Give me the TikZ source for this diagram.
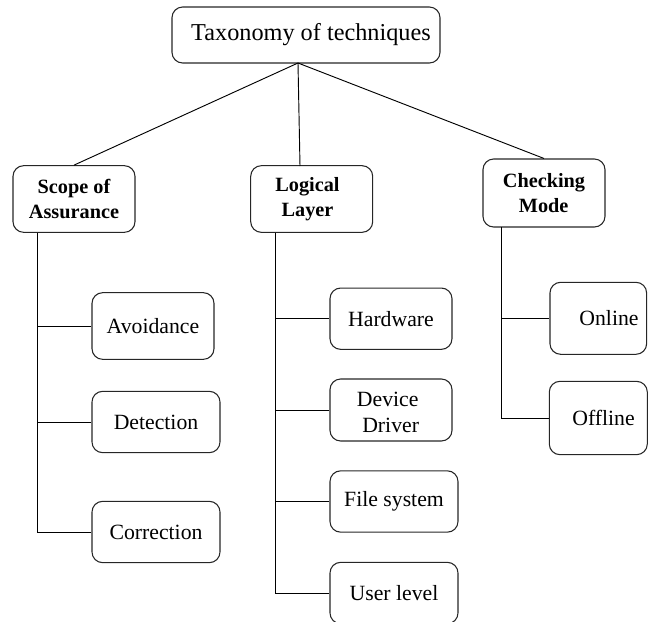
\documentclass[tikz,border=0pt]{standalone}
\usepackage{fontspec}
\setmainfont{Liberation Serif}
\newfontfamily\tnr{Liberation Serif}
\begin{document}
\begin{tikzpicture}[x=0.75pt,y=-0.75pt,
  box/.style={draw=black!85, line width=0.8pt, rounded corners=8pt, inner sep=0pt, align=center},
  topfont/.style={font=\tnr\fontsize{18.2}{21}\selectfont},
  leaffont/.style={font=\tnr\fontsize{16.3}{19.5}\selectfont},
  catfont/.style={font=\tnr\fontsize{15.2}{18.5}\selectfont\bfseries},
  conn/.style={draw=black, line width=0.7pt}]
\useasboundingbox (0,0) rectangle (651,622);
\clip (0,0) rectangle (651,622);
% top
\node[box, minimum width=201pt, minimum height=42pt] (top) at (306,35) {};
\node[topfont, inner sep=0pt] (toptext) at (311,35) {Taxonomy of techniques};
% categories
\node[box, catfont, minimum width=91.5pt, minimum height=50pt] (scope) at (74,199) {Scope of\\Assurance};
\node[box, catfont, minimum width=91.5pt, minimum height=50pt] (logical) at (311.7,199) {};
\node[catfont, align=center, inner sep=0pt] (logicaltext) at (307.5,199) {Logical\\Layer};
\node[box, catfont, minimum width=91.5pt, minimum height=51pt] (checking) at (544,193) {};
\node[catfont, align=left, inner sep=0pt] (checkingtext) at (544,193) {Checking\\\hspace*{12pt}Mode};
% scope leaves
\node[box, leaffont, minimum width=91.5pt, minimum height=50pt] (avoid) at (153,326) {Avoidance};
\node[box, leaffont, minimum width=96pt, minimum height=46pt] (detect) at (156,422) {Detection};
\node[box, leaffont, minimum width=96pt, minimum height=46pt] (correct) at (156,532) {Correction};
% logical leaves
\node[box, leaffont, minimum width=91.5pt, minimum height=46pt] (hard) at (391,318.7) {Hardware};
\node[box, minimum width=91.5pt, minimum height=46.5pt] (device) at (391,410) {};
\node[leaffont, align=left, inner sep=0pt] (devicetext) at (388,412) {Device\\\hspace*{4pt}Driver};
\node[box, leaffont, minimum width=96pt, minimum height=46pt] (file) at (394,501.5) {File system};
\node[box, leaffont, minimum width=96pt, minimum height=46pt] (user) at (394,593) {User level};
% checking leaves
\node[box, minimum width=72.5pt, minimum height=54pt] (online) at (598.3,318.3) {};
\node[leaffont, inner sep=0pt] (onlinetext) at (609,318.3) {Online};
\node[box, minimum width=73.5pt, minimum height=55pt] (offline) at (598.3,418) {};
\node[leaffont, inner sep=0pt] (offlinetext) at (603.5,418) {Offline};
% connectors from top
\coordinate (apex) at (298,63);
\coordinate (lt) at (300,166);
\draw[conn] (apex) -- (scope.north);
\draw[conn] (apex) -- (lt);
\draw[conn] (apex) -- (checking.north);
% scope trunk
\coordinate (s0) at (37,232.7);
\draw[conn] (s0) |- (correct.west);
\draw[conn] (s0 |- avoid.west) -- (avoid.west);
\draw[conn] (s0 |- detect.west) -- (detect.west);
% logical trunk
\coordinate (l0) at (275,232.7);
\draw[conn] (l0) |- (user.west);
\draw[conn] (l0 |- hard.west) -- (hard.west);
\draw[conn] (l0 |- device.west) -- (device.west);
\draw[conn] (l0 |- file.west) -- (file.west);
% checking trunk
\coordinate (c0) at (501.5,227.3);
\draw[conn] (c0) |- (offline.west);
\draw[conn] (c0 |- online.west) -- (online.west);
\end{tikzpicture}
\end{document}
